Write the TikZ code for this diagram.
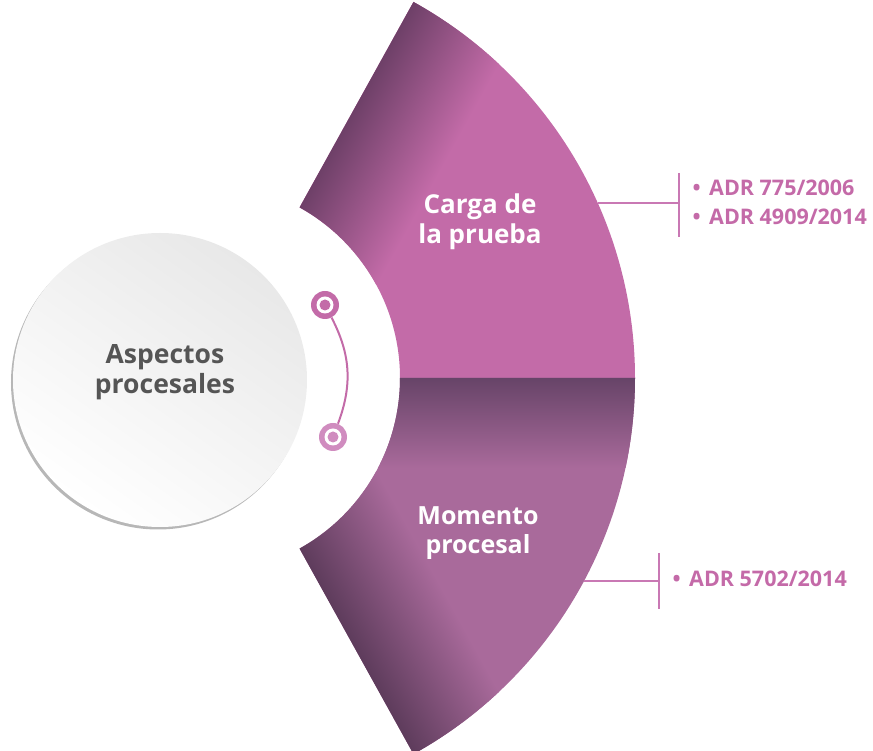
\documentclass[tikz,border=0pt]{standalone}
\usepackage{fontspec}
\setmainfont{Open Sans}
\usetikzlibrary{shadows}

\definecolor{cargaPink}{HTML}{C36BA8}
\definecolor{cargaDark}{HTML}{6E4068}
\definecolor{momentoPink}{HTML}{A96A9B}
\definecolor{momentoDark}{HTML}{5E3C5C}
\definecolor{seamDark}{HTML}{674468}
\definecolor{adrPink}{HTML}{C46AA8}
\definecolor{linePink}{HTML}{C978B4}
\definecolor{ringLight}{HTML}{D08CBF}
\definecolor{labelGray}{HTML}{555555}

\begin{document}
\begin{tikzpicture}[x=1pt,y=1pt,
	aspecto/.style={circle,minimum size=294pt,inner sep=0pt,
		top color=black!9,bottom color=white,shading angle=-35,
		drop shadow={shadow xshift=-2pt,shadow yshift=-2.5pt,fill=black!40,opacity=0.7}},
	biglabel/.style={align=center,font=\bfseries\fontsize{26}{30}\selectfont},
	adr/.style={anchor=base west,inner sep=0pt,text=adrPink,font=\bfseries\fontsize{21.5}{24}\selectfont},
	bracket/.style={draw=linePink,line width=1.6pt},
	ring/.style={circle,minimum size=28pt,inner sep=0pt,fill=#1,
		path picture={\fill[white] (path picture bounding box.center) circle[radius=8.5pt];
			\fill[#1] (path picture bounding box.center) circle[radius=5.5pt];}}]
	\useasboundingbox (-205,-373) rectangle (668,378);

	% upper sector
	\begin{scope}
		\clip (0:195) -- (0:430) arc[start angle=0,end angle=61,radius=430]
			-- (61:195) arc[start angle=61,end angle=0,radius=195] -- cycle;
		\fill[cargaPink] (-10,-10) rectangle (450,450);
		\begin{scope}[transform canvas={rotate=-29}]
			\shade[left color=cargaDark,right color=cargaPink] (0,-10) rectangle (105,480);
		\end{scope}
	\end{scope}

	% lower sector
	\begin{scope}
		\clip (0:195) -- (0:430) arc[start angle=0,end angle=-61,radius=430]
			-- (-61:195) arc[start angle=-61,end angle=0,radius=195] -- cycle;
		\fill[momentoPink] (-10,10) rectangle (450,-450);
		\shade[top color=seamDark,bottom color=momentoPink] (150,0) rectangle (450,-90);
		\begin{scope}[transform canvas={rotate=29}]
			\shade[left color=momentoDark,right color=momentoPink] (0,-480) rectangle (105,10);
		\end{scope}
	\end{scope}

	\node[aspecto] (aspectos) at (-45,-2) {};
	\node[biglabel,text=labelGray,font=\bfseries\fontsize{26.5}{30}\selectfont] (aspectosTxt) at (-40,6) {Aspectos\\procesales};

	\node[biglabel,text=white] (carga) at (275,156) {Carga de\\la prueba};
	\node[biglabel,text=white,font=\bfseries\fontsize{25}{28.5}\selectfont] (momento) at (273,-155) {Momento\\procesal};

	\node[ring=cargaPink] (ringA) at (120,73) {};
	\node[ring=ringLight] (ringB) at (128,-59) {};
	\draw[draw=cargaPink,line width=2pt] (ringA) to[bend left=24] (ringB);

	% references
	\coordinate (cargaEdge) at (24:430);
	\coordinate (cargaTop) at (474,205);
	\coordinate (cargaBot) at (474,141);
	\draw[bracket] (cargaEdge) -- (cargaEdge -| cargaTop);
	\draw[bracket] (cargaTop) -- (cargaBot);
	\node[adr] (adrA) at (504,182) {ADR 775/2006};
	\node[adr] (adrB) at (504,153) {ADR 4909/2014};
	\node[adr,anchor=base east] at ([xshift=-8pt]adrA.base west) {\textbullet};
	\node[adr,anchor=base east] at ([xshift=-8pt]adrB.base west) {\textbullet};

	\coordinate (momentoEdge) at (-28.2:430);
	\coordinate (momentoTop) at (454,-175);
	\coordinate (momentoBot) at (454,-231);
	\draw[bracket] (momentoEdge) -- (momentoEdge -| momentoTop);
	\draw[bracket] (momentoTop) -- (momentoBot);
	\node[adr] (adrC) at (484,-209) {ADR 5702/2014};
	\node[adr,anchor=base east] at ([xshift=-8pt]adrC.base west) {\textbullet};
\end{tikzpicture}
\end{document}
